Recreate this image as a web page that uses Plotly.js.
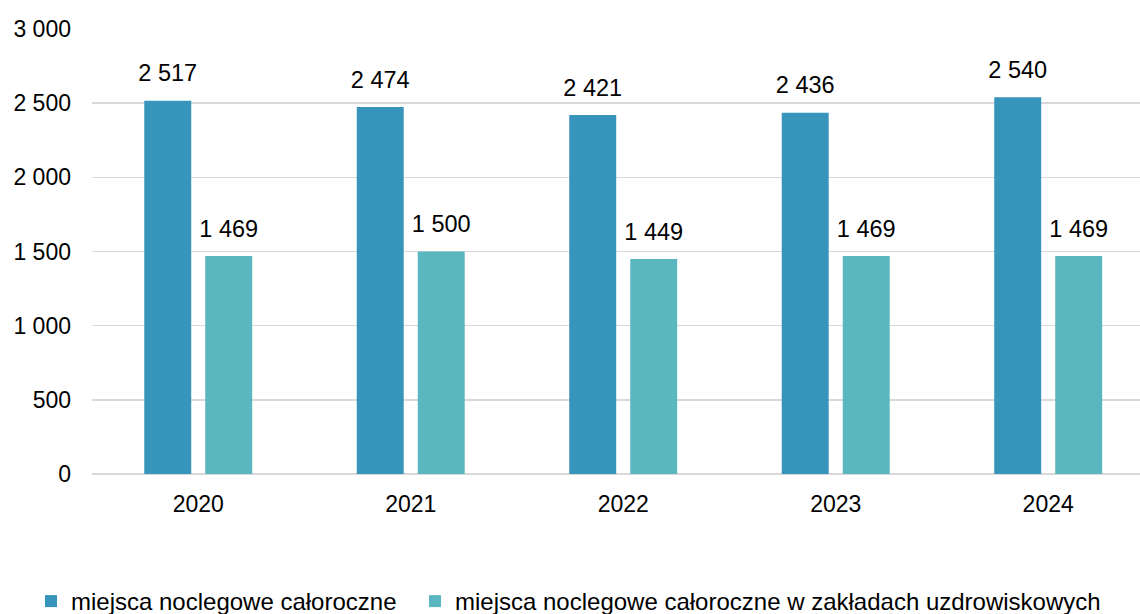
<!DOCTYPE html>
<html>
<head>
<meta charset="utf-8">
<script src="https://cdn.plot.ly/plotly-3.0.1.min.js"></script>
<style>
  html, body { margin: 0; padding: 0; background: #fff; }
  #chart { width: 1140px; height: 614px; }
</style>
</head>
<body>
<div id="chart"></div>
<script>
// years and values
const years = ['2020', '2021', '2022', '2023', '2024'];
const allYear = [2517, 2474, 2421, 2436, 2540];
const spaResorts = [1469, 1500, 1449, 1469, 1469];
const seriesNames = ['miejsca noclegowe całoroczne', 'miejsca noclegowe całoroczne w zakładach uzdrowiskowych'];
const yTicks = [0, 500, 1000, 1500, 2000, 2500, 3000];

const font = { family: 'Liberation Sans, Arial, sans-serif', size: 23, color: '#000' };
const legendFont = { family: 'Liberation Sans, Arial, sans-serif', size: 24, color: '#000' };
// small base size so the blank second line only adds a little gap above the bar
const labelFont = { family: 'Liberation Sans, Arial, sans-serif', size: 11, color: '#000' };
const labelTemplate = '<span style="font-size:23.5px">%{y:,d}</span><br>\u00a0';

const data = [
  {
    type: 'bar',
    name: seriesNames[0],
    legend: 'legend',
    x: years,
    y: allYear,
    marker: { color: '#3795BC' },
    texttemplate: labelTemplate,
    textposition: 'outside',
    constraintext: 'none',
    cliponaxis: false,
    textfont: labelFont
  },
  {
    type: 'bar',
    name: seriesNames[1],
    legend: 'legend2',
    x: years,
    y: spaResorts,
    marker: { color: '#5AB7C0' },
    texttemplate: labelTemplate,
    textposition: 'outside',
    constraintext: 'none',
    cliponaxis: false,
    textfont: labelFont
  }
];

function legendAt(px) {
  return {
    orientation: 'h',
    xref: 'container',
    yref: 'container',
    x: px / 1140,
    y: 0.057,
    xanchor: 'left',
    yanchor: 'top',
    font: legendFont,
    itemclick: false
  };
}

const layout = {
  width: 1140,
  height: 614,
  margin: { l: 92, r: 0, t: 29, b: 140 },
  paper_bgcolor: '#fff',
  plot_bgcolor: '#fff',
  separators: ', ',
  font: font,
  barmode: 'group',
  bargap: 0.426,
  bargroupgap: 0.23,
  showlegend: true,
  legend: legendAt(31),
  legend2: legendAt(415),
  xaxis: {
    type: 'category',
    range: [-0.5, 4.432],
    showgrid: false,
    showline: false,
    zeroline: false,
    ticks: '',
    ticklabelstandoff: 14,
    tickfont: font
  },
  yaxis: {
    range: [0, 3000],
    tickvals: yTicks,
    tickformat: ',d',
    showgrid: true,
    gridcolor: '#D9D9D9',
    gridwidth: 1.5,
    zeroline: true,
    zerolinecolor: '#D9D9D9',
    zerolinewidth: 2,
    showline: false,
    ticks: '',
    ticklabelstandoff: 20,
    tickfont: font
  }
};

Plotly.newPlot('chart', data, layout, { staticPlot: true, displayModeBar: false });
</script>
</body>
</html>
